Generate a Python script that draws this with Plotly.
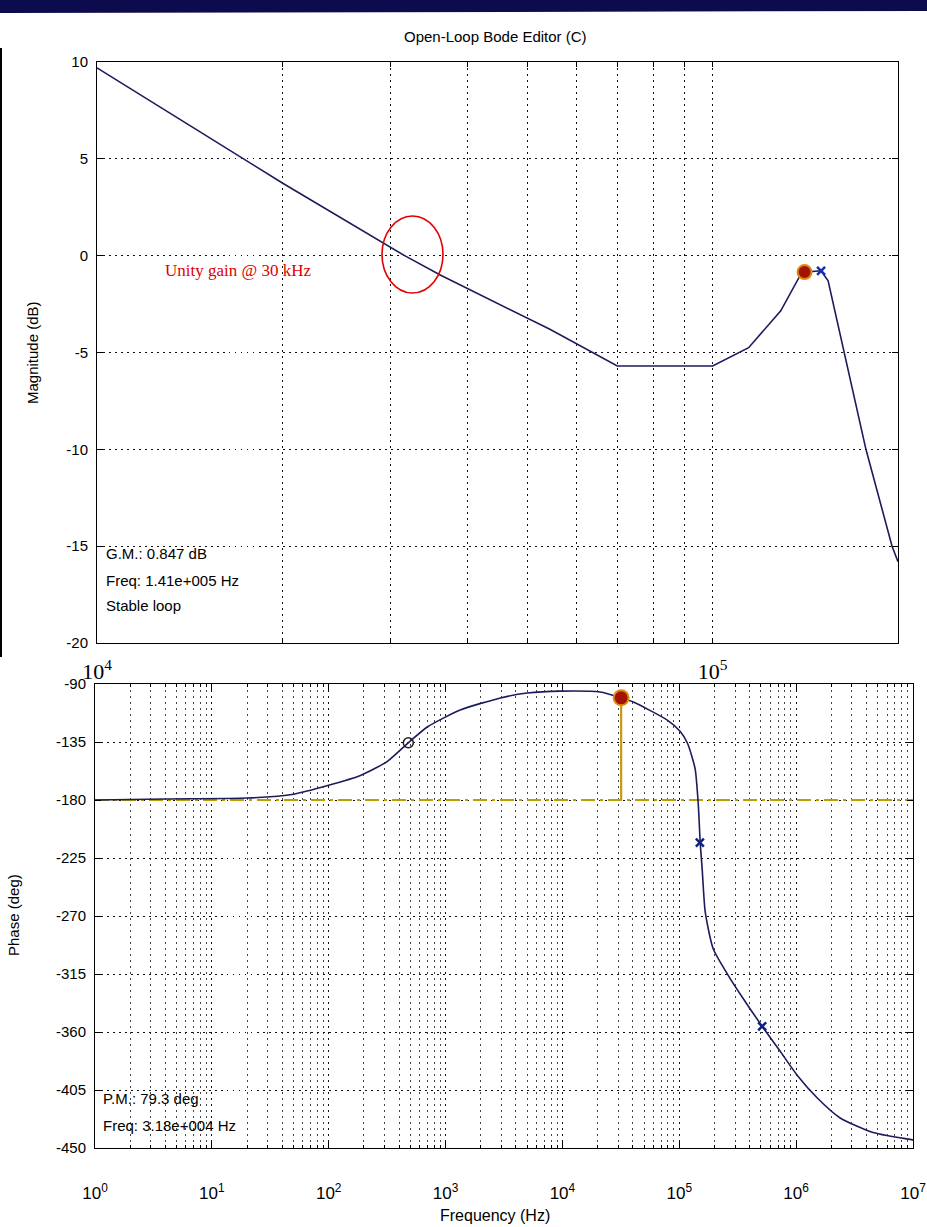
import numpy as np
import plotly.graph_objects as go

# ---------------- data ----------------
# Magnitude (top panel)
mag_freq = [1.0e4, 2.0e4, 3.16e4, 3.61e4, 5.44e4, 6.0e4, 7.0e4, 1.0e5, 1.144e5,
            1.29e5, 1.38e5, 1.41e5, 1.5e5, 1.54e5, 1.676e5, 1.774e5, 1.956e5, 2.0e5]
mag_db = [9.7, 3.75, 0.0, -1.0, -3.8, -4.55, -5.7, -5.7, -4.75,
          -2.85, -1.15, -0.85, -0.78, -1.3, -6.5, -10.0, -15.0, -15.8]

# Phase (bottom panel)
ph_freq = [1, 4, 20, 50, 98, 187, 318, 480, 707, 1350, 2950, 5000, 9600, 21000,
           31800, 40400, 79000, 102000, 117000, 128000, 137000, 145300, 151000, 157000,
           166700, 195000, 262000, 352000, 512000, 730000, 1.02e6, 1.51e6, 2.38e6,
           4.55e6, 1.0e7]
ph_deg = [-180, -179.2, -178.5, -175.5, -168.8, -161, -150, -135.6, -123, -110, -100.8,
          -97, -95.5, -96.2, -100.7, -104, -118, -126.8, -135.6, -146, -156.4, -183,
          -213, -233.6, -266.8, -295.4, -316, -334, -355.6, -375, -393.5, -411, -426.7,
          -438, -443.7]

# Margins / compensator markers
gm_db = 0.847
gm_freq = 1.41e5
pm_deg = 79.3
pm_freq = 3.18e4
zero_freq = [480]
zero_phase = [-135.6]
pole_freq = [1.5e5, 5.12e5]
pole_phase = [-213, -355.6]
pole_mag_freq = [1.5e5]
pole_mag_db = [-0.78]

# Tick labels
mag_ticks = [-20, -15, -10, -5, 0, 5, 10]
ph_ticks = [-450, -405, -360, -315, -270, -225, -180, -135, -90]
top_xticks = [1e4, 1e5]
top_xtext = ["10<sup>4</sup>", "10<sup>5</sup>"]
bot_xticks = [10 ** k for k in range(8)]
bot_xtext = ["10<sup>%d</sup>" % k for k in range(8)]

# ---------------- figure ----------------
W, H = 927, 1227
def px(x):
    return x / W
def py(y):
    return 1 - y / H

SANS = "Liberation Sans, Arial, sans-serif"
SERIF = "Liberation Serif, Times New Roman, serif"
LINE = "#1c1c5c"
GRID = "1.5px,4.5px"

fig = go.Figure()

# top panel
fig.add_trace(go.Scatter(x=mag_freq, y=mag_db, mode="lines",
                         line=dict(color=LINE, width=1.6), xaxis="x", yaxis="y",
                         showlegend=False, hoverinfo="skip"))
fig.add_trace(go.Scatter(x=[gm_freq], y=[-gm_db], mode="markers",
                         marker=dict(symbol="circle", size=14, color="#a01400",
                                     line=dict(color="#e08a10", width=2)),
                         xaxis="x", yaxis="y", showlegend=False))
fig.add_trace(go.Scatter(x=pole_mag_freq, y=pole_mag_db, mode="markers",
                         marker=dict(symbol="x-thin", size=8, color="#1030b0",
                                     line=dict(color="#1030b0", width=2.5)),
                         xaxis="x", yaxis="y", showlegend=False))

# bottom panel
fig.add_trace(go.Scatter(x=[bot_xticks[0], bot_xticks[-1]], y=[-180, -180], mode="lines",
                         line=dict(color="#b8a200", width=2.2, dash="14px,5px,3px,5px"),
                         xaxis="x2", yaxis="y2", showlegend=False))
fig.add_trace(go.Scatter(x=[pm_freq, pm_freq], y=[-180, -180 + pm_deg], mode="lines",
                         line=dict(color="#c89a10", width=2.2),
                         xaxis="x2", yaxis="y2", showlegend=False))
fig.add_trace(go.Scatter(x=ph_freq, y=ph_deg, mode="lines", line_shape="spline",
                         line=dict(color=LINE, width=1.6, smoothing=0.6),
                         xaxis="x2", yaxis="y2", showlegend=False, hoverinfo="skip"))
fig.add_trace(go.Scatter(x=zero_freq, y=zero_phase, mode="markers",
                         marker=dict(symbol="circle-open", size=10, color="#202020",
                                     line=dict(width=1.5)),
                         xaxis="x2", yaxis="y2", showlegend=False))
fig.add_trace(go.Scatter(x=[pm_freq], y=[-180 + pm_deg], mode="markers",
                         marker=dict(symbol="circle", size=15, color="#a01400",
                                     line=dict(color="#e08a10", width=2)),
                         xaxis="x2", yaxis="y2", showlegend=False))
fig.add_trace(go.Scatter(x=pole_freq, y=pole_phase, mode="markers",
                         marker=dict(symbol="x-thin", size=8, color="#102080",
                                     line=dict(color="#102080", width=2.5)),
                         xaxis="x2", yaxis="y2", showlegend=False))

common_axis = dict(showline=True, linecolor="black", linewidth=1, mirror="allticks",
                   ticks="inside", tickcolor="black", zeroline=False, automargin=False,
                   showgrid=True, gridcolor="#111111", gridwidth=1, griddash=GRID)

top_minor = [m * 10 ** e for e in (4,) for m in range(2, 10)]
bot_minor = [m * 10 ** e for e in range(0, 7) for m in range(2, 10)]

fig.update_layout(
    width=W, height=H,
    autosize=False,
    margin=dict(l=0, r=0, t=0, b=0, pad=0, autoexpand=False),
    paper_bgcolor="white", plot_bgcolor="white",
    xaxis=dict(type="log", range=[4, np.log10(2e5)], domain=[px(97), px(898)], anchor="y",
               tickmode="array", tickvals=top_xticks, ticktext=top_xtext,
               tickfont=dict(family=SERIF, size=22, color="black"), ticklen=5,
               ticklabelstandoff=9,
               minor=dict(tickmode="array", tickvals=top_minor, ticks="inside", ticklen=5,
                          tickcolor="black", showgrid=True, gridcolor="#111111",
                          griddash=GRID, gridwidth=1),
               **common_axis),
    yaxis=dict(range=[-20, 10], domain=[py(643), py(62)], anchor="x",
               tickmode="array", tickvals=mag_ticks, ticktext=[str(v) for v in mag_ticks],
               ticklen=6, ticklabelstandoff=5,
               tickfont=dict(family=SANS, size=15, color="black"), **common_axis),
    xaxis2=dict(type="log", range=[0, 7], domain=[px(95), px(913)], anchor="y2",
                tickmode="array", tickvals=bot_xticks, ticktext=bot_xtext,
                tickfont=dict(family=SANS, size=17, color="black"), ticklen=6,
                ticklabelstandoff=30,
                minor=dict(tickmode="array", tickvals=bot_minor, ticks="inside", ticklen=3,
                           tickcolor="black", showgrid=True, gridcolor="#444444",
                           griddash=GRID, gridwidth=1),
                **common_axis),
    yaxis2=dict(range=[-450, -90], domain=[py(1148), py(684)], anchor="x2",
                tickmode="array", tickvals=ph_ticks, ticktext=[str(v) for v in ph_ticks],
                ticklen=6, ticklabelstandoff=5,
                tickfont=dict(family=SANS, size=15, color="black"), **common_axis),
)

shapes = [
    # header bar
    dict(type="path", xref="paper", yref="paper",
         path="M 0 1 L 1 1 L 1 %f L 0 %f Z" % (py(11), py(13)),
         fillcolor="#0b0b4e", line=dict(width=0), layer="above"),
    # left black edge
    dict(type="line", xref="paper", yref="paper", x0=px(1), x1=px(1), y0=py(48), y1=py(657),
         line=dict(color="black", width=2)),
    # masks over gridlines behind the text boxes
    dict(type="rect", xref="paper", yref="paper", x0=px(98), x1=px(310), y0=py(642), y1=py(522),
         fillcolor="white", line=dict(width=0), layer="between"),
    dict(type="rect", xref="paper", yref="paper", x0=px(96), x1=px(327), y0=py(1096), y1=py(1088),
         fillcolor="white", line=dict(width=0), layer="between"),
    # red ellipse
    dict(type="circle", xref="paper", yref="paper", x0=px(382), x1=px(443), y0=py(293), y1=py(216),
         line=dict(color="#e00000", width=1.6), layer="above"),
]
fig.update_layout(shapes=shapes)

ann = [
    dict(text="Open-Loop Bode Editor (C)", x=px(495), y=py(37), font=dict(size=15)),
    dict(text="Magnitude (dB)", x=px(32), y=py(352), textangle=-90, font=dict(size=15)),
    dict(text="Phase (deg)", x=px(13), y=py(915), textangle=-90, font=dict(size=15)),
    dict(text="Frequency (Hz)", x=px(495), y=py(1215), font=dict(size=16)),
    dict(text="Unity gain @ 30 kHz", x=px(163), y=py(271), xanchor="left",
         font=dict(family=SERIF, size=17, color="#e00000")),
    dict(text="G.M.: %.3f dB" % gm_db, x=px(104), y=py(553), xanchor="left", font=dict(size=15)),
    dict(text="Freq: 1.41e+005 Hz", x=px(104), y=py(580), xanchor="left", font=dict(size=15)),
    dict(text="Stable loop", x=px(104), y=py(606), xanchor="left", font=dict(size=15)),
    dict(text="P.M.: %.1f deg" % pm_deg, x=px(101), y=py(1098), xanchor="left", font=dict(size=15)),
    dict(text="Freq: 3.18e+004 Hz", x=px(101), y=py(1125), xanchor="left", font=dict(size=15)),
]
for a in ann:
    a.setdefault("xanchor", "center")
    a["yanchor"] = "middle"
    a["xref"] = "paper"
    a["yref"] = "paper"
    a["showarrow"] = False
    f = a["font"]
    f.setdefault("family", SANS)
    f.setdefault("color", "black")
fig.update_layout(annotations=ann)

fig.write_html(
    "out.html",
    config={"responsive": False, "displayModeBar": False},
    post_script="document.documentElement.style.margin='0';document.body.style.margin='0';"
                "document.body.style.overflow='hidden';document.documentElement.style.overflow='hidden';",
)
